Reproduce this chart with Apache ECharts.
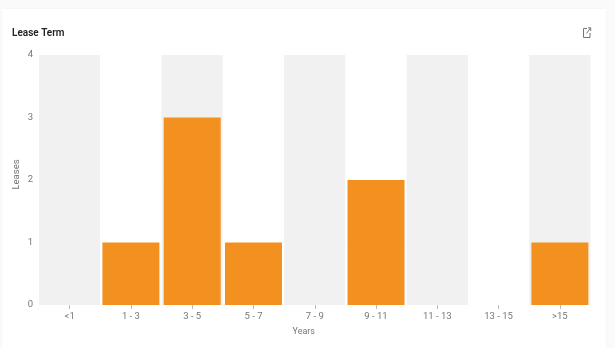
<!DOCTYPE html>
<html><head><meta charset="utf-8">
<style>html,body{margin:0;padding:0;background:#fafafa;width:615px;height:348px;overflow:hidden}
#card{position:absolute;left:2px;top:9px;width:604px;height:339px;background:#fff;box-shadow:0 0 1px #e8e8e8}
#c{position:absolute;left:0;top:0;width:615px;height:348px}</style>
<script src="https://cdn.jsdelivr.net/npm/echarts@6/dist/echarts.min.js"></script>
</head><body><div id="card"></div><div id="c"></div>
<script>
const titleText = 'Lease Term';
const categories = ['<1','1 - 3','3 - 5','5 - 7','7 - 9','9 - 11','11 - 13','13 - 15','>15'];
const leases = [0,1,3,1,0,2,0,0,1];
const yTicks = {min:0,max:4,interval:1};
const chart = echarts.init(document.getElementById('c'),null,{renderer:'canvas'});
const font = 'Roboto, "Noto Sans", sans-serif';
const iconStyle = {fill:'none',stroke:'#777',lineWidth:1};
chart.setOption({
  animation:false,
  backgroundColor:'transparent',
  title:{text:titleText,left:12,top:28,textStyle:{fontFamily:font,fontSize:10,fontWeight:600,color:'#222'},padding:0},
  grid:{left:39,right:24.5,top:55,bottom:43,containLabel:false,outerBoundsMode:'none'},
  xAxis:{type:'category',data:categories,name:'Years',nameLocation:'middle',nameGap:22,nameMoveOverlap:false,
    nameTextStyle:{fontFamily:font,fontSize:9,color:'#777',padding:[0,22,0,0]},
    axisLine:{show:false},
    axisTick:{show:true,alignWithLabel:true,length:4,lineStyle:{color:'#bbb'}},
    axisLabel:{fontFamily:font,fontSize:9.5,color:'#777',margin:7,interval:0},
    splitArea:{show:true,areaStyle:{color:['#f1f1f1','#ffffff']}},
    splitLine:{show:false}},
  yAxis:{type:'value',min:yTicks.min,max:yTicks.max,interval:yTicks.interval,name:'Leases',nameLocation:'middle',nameGap:17,nameMoveOverlap:false,
    nameTextStyle:{fontFamily:font,fontSize:9.5,color:'#777',padding:[0,0,0,11]},
    axisLine:{show:false},axisTick:{show:false},
    axisLabel:{fontFamily:font,fontSize:9.5,color:'#777',margin:6,padding:[6,0,0,0]},
    splitLine:{show:true,showMinLine:false,lineStyle:{color:'#efefef',width:1}}},
  series:[{type:'bar',data:leases,barWidth:'93%',itemStyle:{color:'#f29120'},emphasis:{disabled:true}}],
  graphic:[
    {type:'polyline',silent:true,shape:{points:[[587,28.5],[583.5,28.5],[583.5,37.5],[590,37.5],[590,33]]},style:iconStyle},
    {type:'polyline',silent:true,shape:{points:[[586.5,33.5],[590.5,28]]},style:iconStyle},
    {type:'polyline',silent:true,shape:{points:[[588,27.8],[590.7,27.8],[590.7,31]]},style:iconStyle}
  ]
});
</script></body></html>
